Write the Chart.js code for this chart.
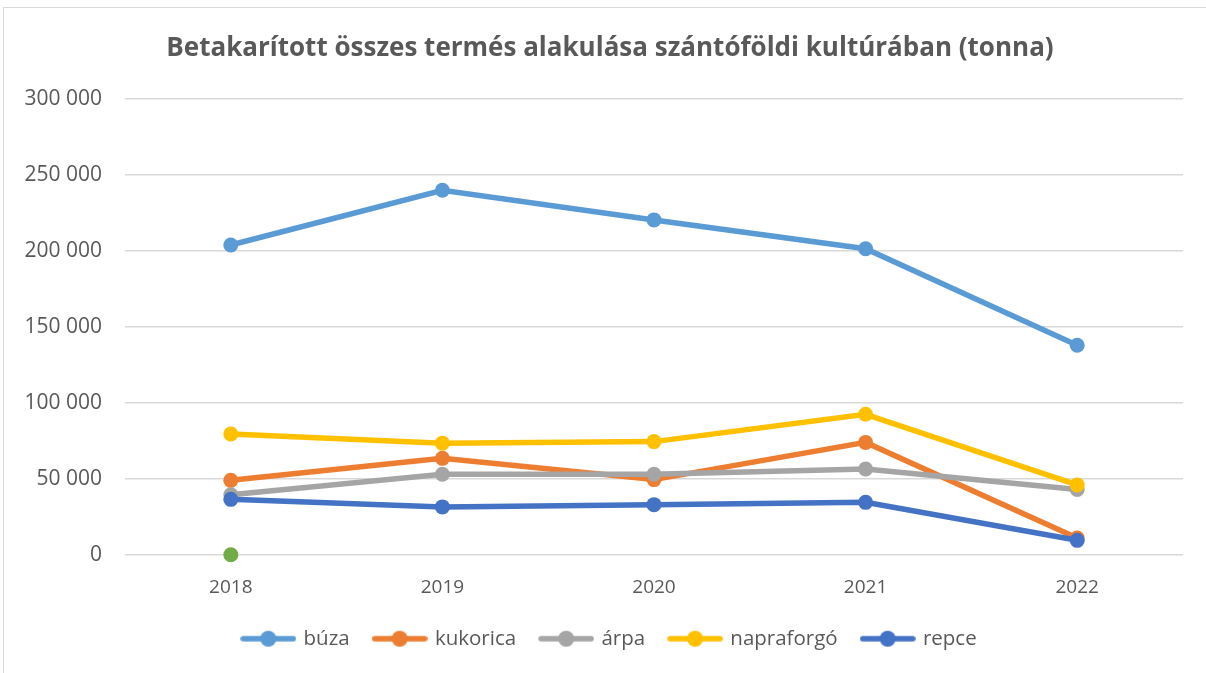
<!DOCTYPE html>
<html>
<head>
<meta charset="utf-8">
<script src="https://cdn.jsdelivr.net/npm/chart.js@4"></script>
<style>
  body { margin: 0; background: #fff; }
  #keret { position: absolute; left: 3px; top: 7px; width: 1300px; height: 800px; border: 1px solid #d9d9d9; }
  #doboz { position: absolute; left: 0; top: 0; width: 1206px; height: 673px; }
</style>
</head>
<body>
<div id="keret"></div>
<div id="doboz"><canvas id="grafikon"></canvas></div>
<script>
// adatok
const evek = ['2018', '2019', '2020', '2021', '2022'];
const buza = [204000, 240000, 220500, 201500, 138000];
const kukorica = [49000, 63500, 49500, 74000, 11000];
const arpa = [39500, 53000, 53000, 56500, 43000];
const napraforgo = [79500, 73500, 74500, 92500, 46000];
const repce = [36500, 31500, 33000, 34500, 9500];
const zold = [0, null, null, null, null]; // magányos zöld pont, nincs a jelmagyarázatban
const yTickek = [0, 50000, 100000, 150000, 200000, 250000, 300000];

const betu = 'Open Sans';
const szurke = '#595959';

// jelmagyarázat ikon: vonal közepén ponttal
function ikon(szin) {
  let c = document.createElement('canvas');
  c.width = 56; c.height = 18;
  let x = c.getContext('2d');
  x.strokeStyle = szin; x.lineWidth = 5.5; x.lineCap = 'round';
  x.beginPath(); x.moveTo(3, 9); x.lineTo(53, 9); x.stroke();
  x.fillStyle = szin;
  x.beginPath(); x.arc(28, 9, 8, 0, Math.PI * 2); x.fill();
  return c;
}

function sor(nev, adat, szin, sorrend) {
  return {
    label: nev, data: adat,
    borderColor: szin, backgroundColor: szin,
    borderWidth: 5.5, pointRadius: 7.5, pointHoverRadius: 7.5,
    pointBorderWidth: 0, pointStyle: 'circle',
    tension: 0, order: sorrend, clip: false
  };
}

// a későbbi sorozat kerül felülre, mint az Excelben
let sorok = [
  sor('búza', buza, '#5B9BD5', 5),
  sor('kukorica', kukorica, '#ED7D31', 4),
  sor('árpa', arpa, '#A5A5A5', 3),
  sor('napraforgó', napraforgo, '#FFC000', 2),
  sor('repce', repce, '#4472C4', 1),
  sor('', zold, '#70AD47', 10)
];

function ezres(v) {
  return String(v).replace(/\B(?=(\d{3})+(?!\d))/g, ' ');
}

let myChart = new Chart(document.getElementById('grafikon'), {
  type: 'line',
  data: { labels: evek, datasets: sorok },
  options: {
    responsive: true,
    maintainAspectRatio: false,
    animation: false,
    layout: { padding: { left: 37, right: 23, top: 0, bottom: 14 } },
    plugins: {
      title: {
        display: true,
        text: 'Betakarított összes termés alakulása szántóföldi kultúrában (tonna)',
        color: szurke,
        font: { family: betu, size: 26, weight: 'bold' },
        padding: { top: 33, bottom: 35 }
      },
      legend: {
        position: 'bottom',
        labels: {
          usePointStyle: true,
          pointStyleWidth: 50,
          padding: 25,
          color: szurke,
          font: { family: betu, size: 20.5 },
          filter: (item) => item.text !== '',
          generateLabels: (chart) => chart.data.datasets.map((ds, i) => ({
            text: ds.label,
            fillStyle: ds.borderColor,
            strokeStyle: ds.borderColor,
            lineWidth: 0,
            pointStyle: ikon(ds.borderColor),
            fontColor: szurke,
            datasetIndex: i,
            hidden: false
          }))
        }
      },
      tooltip: { enabled: false }
    },
    scales: {
      x: {
        offset: true,
        afterFit: (sc) => { sc.height = 48.75; },
        grid: { display: false, drawTicks: false },
        border: { display: false },
        ticks: { color: szurke, font: { family: betu, size: 19 }, padding: 21 }
      },
      y: {
        min: 0, max: 300000,
        afterFit: (sc) => {
          sc.width = 88;
          // a tengelyfeliratok kilóghatnak balra, ne vágja le
          sc._computeLabelArea = () => undefined;
        },
        afterBuildTicks: (sc) => { sc.ticks = yTickek.map(v => ({ value: v })); },
        grid: { color: '#d9d9d9', lineWidth: 1.5, drawTicks: false },
        border: { display: false },
        ticks: {
          color: szurke, font: { family: betu, size: 21 }, padding: 23,
          callback: (v) => ezres(v)
        }
      }
    }
  }
});
</script>
</body>
</html>
